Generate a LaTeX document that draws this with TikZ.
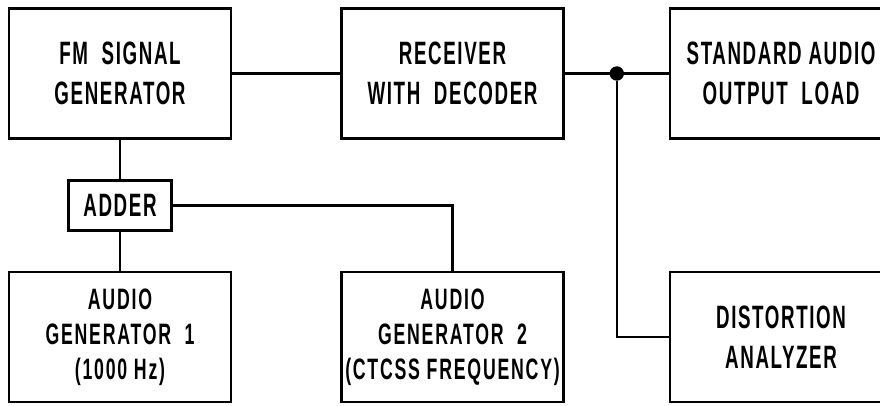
\documentclass[tikz,border=0pt]{standalone}
\usepackage{fontspec}
\setmainfont{Liberation Sans}[FakeStretch=0.58,LetterSpace=5]
\newfontfamily\widefont{Liberation Sans}[FakeStretch=0.6,LetterSpace=6]
\usetikzlibrary{positioning, calc}

\begin{document}
\begin{tikzpicture}[
  node distance=32.75mm and 27mm,
  font=\bfseries\fontsize{23}{28.5}\selectfont,
  block/.style={rectangle, draw, line width=1.8pt, minimum width=55.5mm, minimum height=32.5mm, inner sep=0pt, align=center},
  tallblock/.style={block, font=\widefont\bfseries\fontsize{21}{25}\selectfont},
  adder/.style={rectangle, draw, line width=1.8pt, minimum width=25.75mm, minimum height=12.5mm, inner sep=0pt},
  junction/.style={circle, fill, inner sep=0pt, minimum size=3.6mm},
  wire/.style={line width=1.8pt}
]
\useasboundingbox (-3,1.8375) rectangle (19,-8.2875);

% NODES
\node[block] (fmgen) {FM~~SIGNAL\\GENERATOR};
\node[block, right=of fmgen] (receiver) {RECEIVER\\WITH~~DECODER};
\node[block, right=of receiver, xshift=-1mm] (load) {STANDARD AUDIO\\OUTPUT~~LOAD};
\node[tallblock, below=of fmgen] (audio1) {AUDIO\\GENERATOR~~1\\(1000~Hz)};
\node[tallblock, below=of receiver] (audio2) {AUDIO\\GENERATOR~~2\\(CTCSS FREQUENCY)};
\node[block, below=of load] (analyzer) {DISTORTION\\ANALYZER};
\node[adder] (adder) at ($(fmgen.south)!0.5!(audio1.north)$) {ADDER};
\node[junction] (tap) at ($(receiver.east)!0.5!(load.west)$) {};

% WIRES
\draw[wire] (fmgen) -- (receiver);
\draw[wire] (receiver) -- (load);
\draw[wire] (fmgen) -- (adder);
\draw[wire] (adder) -- (audio1);
\draw[wire] (adder.east) -| (audio2.north);
\draw[wire] (tap) |- (analyzer.west);

\end{tikzpicture}
\end{document}
